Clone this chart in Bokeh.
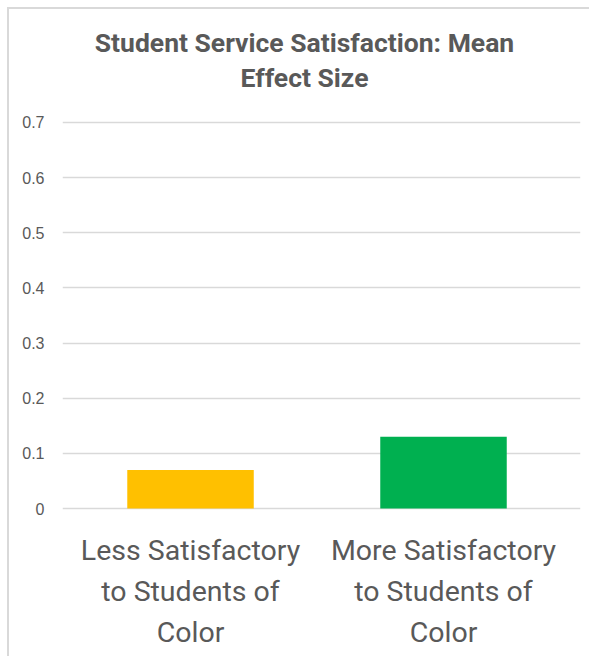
from bokeh.plotting import figure
from bokeh.models import Range1d, FixedTicker, ColumnDataSource
from bokeh.core.properties import value
from bokeh.embed import file_html
from bokeh.resources import INLINE

# ---- data ----
categories = ["Less Satisfactory to Students of Color",
              "More Satisfactory to Students of Color"]
label_line1 = ["Less Satisfactory", "More Satisfactory"]
label_line2 = ["to Students of", "to Students of"]
label_line3 = ["Color", "Color"]
mean_effect = [0.07, 0.13]
bar_colors = ["#FFC000", "#00B050"]
y_ticks = [0, 0.1, 0.2, 0.3, 0.4, 0.5, 0.6, 0.7]
title_lines = ["Student Service Satisfaction: Mean", "Effect Size"]

positions = list(range(len(categories)))
src = ColumnDataSource(dict(x=positions, top=mean_effect, color=bar_colors,
                            l1=label_line1, l2=label_line2, l3=label_line3,
                            zero=[0] * len(categories)))

TEXT = "#595959"
GRID = "#D9D9D9"

x_range = Range1d(-0.506, 1.5415)
y_top = max(y_ticks)
y_range = Range1d(-0.2720, 0.9049)

p = figure(width=582, height=649, output_backend="svg", toolbar_location=None,
           x_range=x_range, y_range=y_range,
           min_border_left=53, min_border_right=11, min_border_top=0,
           min_border_bottom=0, title=None)
p.styles = {"margin-left": "9px", "margin-top": "9px",
            "box-shadow": "-2px -2px 0px 0px #D9D9D9"}
p.outline_line_color = None
p.background_fill_color = "white"
p.border_fill_color = "white"

# title (two centred lines above the plot area)
x_mid = (x_range.start + x_range.end) / 2
tsrc = ColumnDataSource(dict(x=[x_mid, x_mid], y=[y_top, y_top], t=title_lines,
                             off=[-80, -45]))
p.text(x="x", y="y", text="t", y_offset="off", x_offset=-17, source=tsrc,
       text_align="center", text_baseline="alphabetic",
       text_font=value("Roboto"), text_font_size="26.5px",
       text_font_style="bold", text_color=TEXT)

p.xaxis.visible = False
p.xgrid.visible = False
p.yaxis.ticker = FixedTicker(ticks=y_ticks)
p.yaxis.axis_line_color = None
p.yaxis.major_tick_line_color = None
p.yaxis.minor_tick_line_color = None
p.yaxis.major_tick_in = 0
p.yaxis.major_tick_out = 0
p.yaxis.major_label_standoff = 18
p.yaxis.major_label_text_font = "Liberation Sans"
p.yaxis.major_label_text_font_size = "16px"
p.yaxis.major_label_text_color = TEXT
p.ygrid.ticker = FixedTicker(ticks=y_ticks)
p.ygrid.grid_line_color = GRID
p.ygrid.grid_line_width = 1.5

p.vbar(x="x", top="top", bottom=0, width=0.5, fill_color="color",
       line_color=None, source=src)

for col, off in (("l1", 42), ("l2", 83), ("l3", 124)):
    p.text(x="x", y="zero", text=col, source=src, y_offset=off,
           text_align="center", text_baseline="alphabetic",
           text_font=value("Roboto"), text_font_size="28.5px", text_color=TEXT)

open("out.html", "w").write(file_html(p, INLINE))
